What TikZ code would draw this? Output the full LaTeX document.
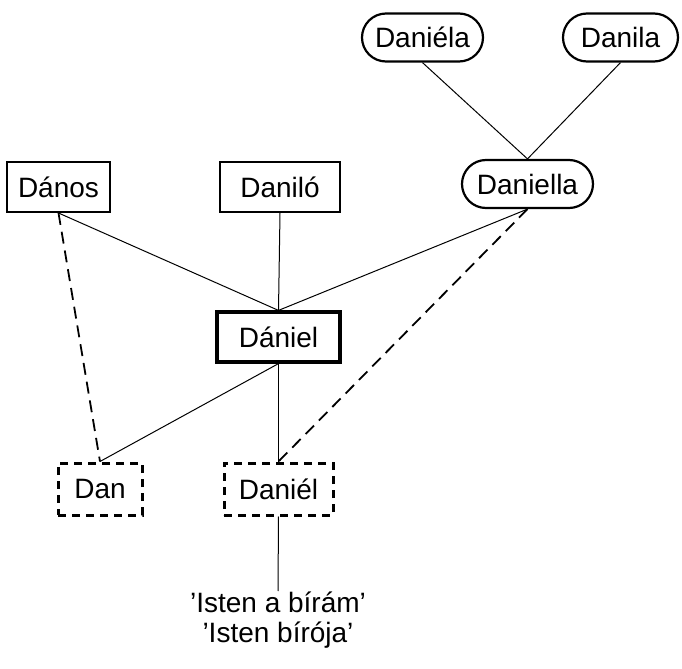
\documentclass[tikz,border=0pt]{standalone}
\usepackage{fontspec}
\setmainfont{Liberation Sans}
\begin{document}
\begin{tikzpicture}[x=0.5pt,y=-0.5pt,
  every node/.style={font=\fontsize{14}{15}\selectfont, inner sep=0pt, align=center},
  box/.style={draw, line width=1pt, minimum height=25pt},
  pill/.style={draw, line width=1.1pt, minimum height=24pt, rounded corners=12pt},
  mainbox/.style={draw, line width=1.6pt, minimum height=25pt},
  dbox/.style={draw, line width=1.5pt, dash pattern=on 4pt off 3pt, minimum height=26pt},
  link/.style={line width=0.5pt},
  dlink/.style={line width=0.9pt, dash pattern=on 6pt off 3.5pt}]
\useasboundingbox (0,0) rectangle (682,669);
\node[pill, minimum width=60.5pt] (daniela) at (422.5,37.5) {Daniéla};
\node[pill, minimum width=57.5pt] (danila) at (620.5,37.5) {Danila};
\node[pill, minimum width=65.5pt] (daniella) at (527.5,184) {Daniella};
\node[box, minimum width=51.5pt] (danos) at (58.5,187) {Dános};
\node[box, minimum width=60pt] (danilo) at (280,187) {Daniló};
\node[mainbox, minimum width=61.5pt] (daniel) at (278.5,337) {Dániel};
\node[dbox, minimum width=42pt] (dan) at (100,489) {Dan};
\node[dbox, minimum width=54.5pt] (daniel2) at (278.5,489) {Daniél};
\node[anchor=north] (meaning) at (278,591) {’Isten a bírám’\\’Isten bírója’};
\draw[link] (daniela.south) -- (daniella.north);
\draw[link] (danila.south) -- (daniella.north);
\draw[link] (danos.south) -- (daniel.north);
\draw[link] (danilo.south) -- (daniel.north);
\draw[link] (daniella.south) -- (daniel.north);
\draw[link] (daniel.south) -- (dan.north);
\draw[link] (daniel.south) -- (daniel2.north);
\draw[dlink] (danos.south) -- (dan.north);
\draw[dlink] (daniella.south) -- (daniel2.north);
\draw[link] (daniel2.south) -- (meaning.north);
\end{tikzpicture}
\end{document}
